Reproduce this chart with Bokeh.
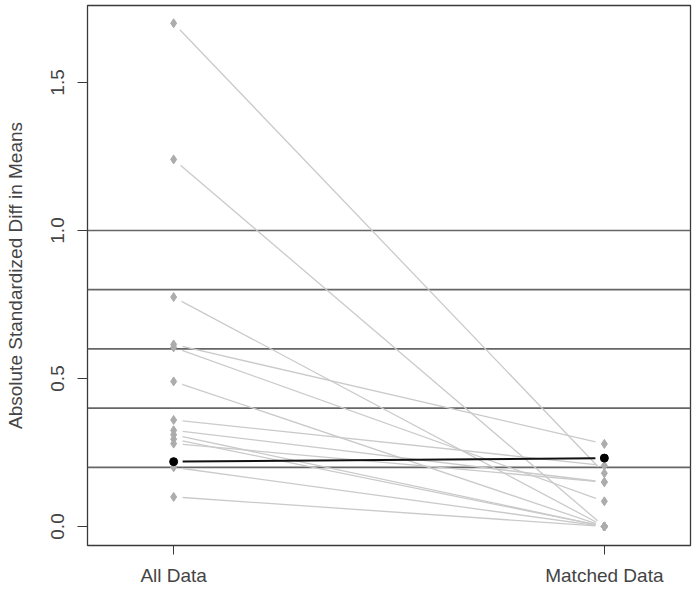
import math
from bokeh.plotting import figure
from bokeh.models import Span, FixedTicker
from bokeh.embed import file_html
from bokeh.resources import INLINE

# ---- data ----
groups = ["All Data", "Matched Data"]
all_data = [1.70, 1.24, 0.775, 0.615, 0.605, 0.49, 0.36, 0.325, 0.31, 0.295, 0.28, 0.20, 0.10]
matched_data = [0.18, 0.0, 0.0, 0.279, 0.085, 0.0, 0.206, 0.15, 0.0, 0.0, 0.15, 0.0, 0.0]
worse_all = [0.219]
worse_matched = [0.231]
ref_lines = [0.2, 0.4, 0.6, 0.8, 1.0]
y_ticks = [0.0, 0.5, 1.0, 1.5]
y_tick_labels = ["0.0", "0.5", "1.0", "1.5"]

W, H = 700, 592
x_start, x_end = 0.8, 2.2
y_start, y_end = -0.0642, 1.760
BL, BR, BT, BB = 87, 10, 5, 47

p = figure(width=W, height=H, output_backend="svg", toolbar_location=None,
           x_range=(x_start, x_end), y_range=(y_start, y_end),
           min_border_left=BL, min_border_right=BR, min_border_top=BT, min_border_bottom=BB)
p.background_fill_color = "white"
p.border_fill_color = "white"
p.outline_line_color = "#3a3a3a"
p.outline_line_width = 1.3
p.xgrid.visible = False
p.ygrid.visible = False

# reference lines
for v in ref_lines:
    p.add_layout(Span(location=v, dimension="width", line_color="#666666",
                      line_width=1.7, level="underlay"))

# pixel scales (for the small gaps R leaves around points with type="b")
px_x = (W - BL - BR) / (x_end - x_start)
px_y = (H - BT - BB) / (y_end - y_start)
gap = 9.0

def gapped(y0, y1):
    dx = 1.0 * px_x
    dy = (y1 - y0) * px_y
    L = math.hypot(dx, dy)
    f = gap / L
    return (1 + f, y0 + (y1 - y0) * f, 2 - f, y1 - (y1 - y0) * f)

x0s, y0s, x1s, y1s = [], [], [], []
for a, b in zip(all_data, matched_data):
    g = gapped(a, b)
    x0s.append(g[0]); y0s.append(g[1]); x1s.append(g[2]); y1s.append(g[3])
p.segment(x0=x0s, y0=y0s, x1=x1s, y1=y1s, line_color="#cacaca", line_width=1.3)
p.scatter(x=[1] * len(all_data), y=all_data, marker="diamond", size=9,
          fill_color="#acacac", line_color="#acacac")
p.scatter(x=[2] * len(matched_data), y=matched_data, marker="diamond", size=9,
          fill_color="#acacac", line_color="#acacac")

wx0, wy0, wx1, wy1 = [], [], [], []
for a, b in zip(worse_all, worse_matched):
    g = gapped(a, b)
    wx0.append(g[0]); wy0.append(g[1]); wx1.append(g[2]); wy1.append(g[3])
p.segment(x0=wx0, y0=wy0, x1=wx1, y1=wy1, line_color="#111111", line_width=2)
p.scatter(x=[1] * len(worse_all), y=worse_all, marker="circle", size=8,
          fill_color="black", line_color="black")
p.scatter(x=[2] * len(worse_matched), y=worse_matched, marker="circle", size=8,
          fill_color="black", line_color="black")

FONT = "Liberation Sans"
TXT = "#444444"

# y axis
ya = p.yaxis[0]
ya.ticker = FixedTicker(ticks=y_ticks)
ya.major_label_overrides = {t: l for t, l in zip(y_ticks, y_tick_labels)}
ya.axis_line_color = None
ya.major_tick_out = 10
ya.major_tick_in = 0
ya.minor_tick_line_color = None
ya.major_tick_line_color = "#3a3a3a"
ya.major_label_orientation = "vertical"
ya.major_label_standoff = 13
ya.major_label_text_font = FONT
ya.major_label_text_font_size = "19px"
ya.major_label_text_color = TXT
ya.axis_label = "Absolute Standardized Diff in Means"
ya.axis_label_text_font = FONT
ya.axis_label_text_font_size = "19px"
ya.axis_label_text_font_style = "normal"
ya.axis_label_text_color = TXT
ya.axis_label_standoff = 23

# x axis
xa = p.xaxis[0]
xa.ticker = FixedTicker(ticks=[1, 2])
xa.major_label_overrides = {1: groups[0], 2: groups[1]}
xa.axis_line_color = None
xa.major_tick_out = 9
xa.major_tick_in = 0
xa.minor_tick_line_color = None
xa.major_tick_line_color = "#3a3a3a"
xa.major_label_standoff = 10
xa.major_label_text_font = FONT
xa.major_label_text_font_size = "19px"
xa.major_label_text_color = TXT

open("out.html", "w").write(file_html(p, INLINE))
